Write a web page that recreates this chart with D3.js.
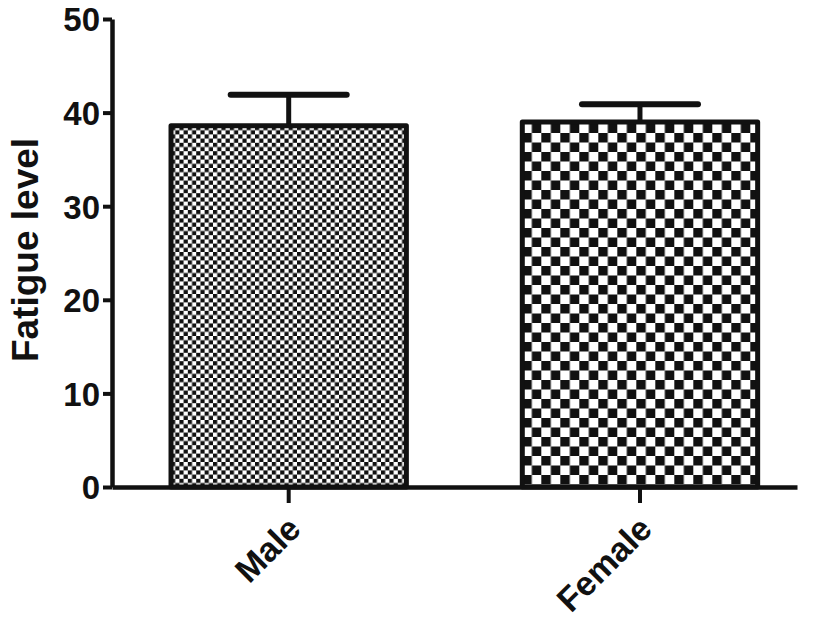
<!DOCTYPE html>
<html>
<head>
<style>
    body { margin: 0; background: #fff; }
    text { font-family: "Liberation Sans", Arial, sans-serif; font-weight: bold; fill: #111; }
</style>
<script src="https://d3js.org/d3.v7.min.js"></script>
</head>
<body>
<script>
    // chart values
    var groups = ["Male", "Female"];
    var means = [38.6, 39.0];
    var sems = [3.3, 1.9];
    var yTicks = [0, 10, 20, 30, 40, 50];
    var checkSizes = [4.2, 9.5];

    var width = 825, height = 628;
    var svg = d3.select("body").append("svg")
        .attr("width", width).attr("height", height);

    var y = d3.scaleLinear().domain([0, 50]).range([487, 19]);
    var x = d3.scaleBand().domain(groups).range([112, 797])
        .paddingInner(0.33).paddingOuter(0.14).align(0.6);

    // checker patterns
    var defs = svg.append("defs");
    groups.forEach(function (g, i) {
        var s = checkSizes[i];
        var p = defs.append("pattern")
            .attr("id", "chk" + i)
            .attr("patternUnits", "userSpaceOnUse")
            .attr("width", s * 2).attr("height", s * 2)
            .attr("x", x(g)).attr("y", 0);
        p.append("rect").attr("width", s * 2).attr("height", s * 2).attr("fill", "#fff");
        p.append("rect").attr("width", s).attr("height", s).attr("fill", "#111");
        p.append("rect").attr("x", s).attr("y", s).attr("width", s).attr("height", s).attr("fill", "#111");
    });

    // error bars (upper only)
    var eb = svg.append("g");
    groups.forEach(function (g, i) {
        var cx = x(g) + x.bandwidth() / 2;
        eb.append("line")
            .attr("x1", cx).attr("x2", cx)
            .attr("y1", y(means[i])).attr("y2", y(means[i] + sems[i]))
            .attr("stroke", "#111").attr("stroke-width", 5);
        eb.append("line")
            .attr("x1", cx - 58).attr("x2", cx + 58)
            .attr("y1", y(means[i] + sems[i])).attr("y2", y(means[i] + sems[i]))
            .attr("stroke", "#111").attr("stroke-width", 6)
            .attr("stroke-linecap", "round");
    });

    // bars
    svg.append("g").selectAll("rect")
        .data(groups)
        .enter().append("rect")
        .attr("x", function (d) { return x(d); })
        .attr("y", function (d, i) { return y(means[i]); })
        .attr("width", x.bandwidth())
        .attr("height", function (d, i) { return y(0) - y(means[i]); })
        .attr("fill", function (d, i) { return "url(#chk" + i + ")"; })
        .attr("stroke", "#111").attr("stroke-width", 5)
        .attr("stroke-linejoin", "round");

    // y axis
    var yAxis = svg.append("g")
        .attr("transform", "translate(112,0)")
        .call(d3.axisLeft(y).tickValues(yTicks).tickSize(9).tickPadding(3).tickSizeOuter(0));
    yAxis.select(".domain").attr("stroke", "#111").attr("stroke-width", 4.5);
    yAxis.selectAll(".tick line").attr("stroke", "#111").attr("stroke-width", 4);
    yAxis.selectAll(".tick text").style("font-size", "33px").attr("dy", "0.36em");

    // x axis
    var xAxis = svg.append("g")
        .attr("transform", "translate(0,487)")
        .call(d3.axisBottom(x).tickSize(16).tickSizeOuter(0));
    xAxis.select(".domain").attr("stroke", "#111").attr("stroke-width", 4.5);
    xAxis.selectAll(".tick line").attr("stroke", "#111").attr("stroke-width", 4);
    xAxis.selectAll(".tick text")
        .style("font-size", "34px")
        .attr("text-anchor", "end")
        .attr("dy", 0).attr("y", 0)
        .attr("transform", "translate(14,44) rotate(-45)");

    // y title
    svg.append("text")
        .attr("transform", "translate(38,250) rotate(-90)")
        .attr("text-anchor", "middle")
        .style("font-size", "37px")
        .text("Fatigue level");
</script>
</body>
</html>
